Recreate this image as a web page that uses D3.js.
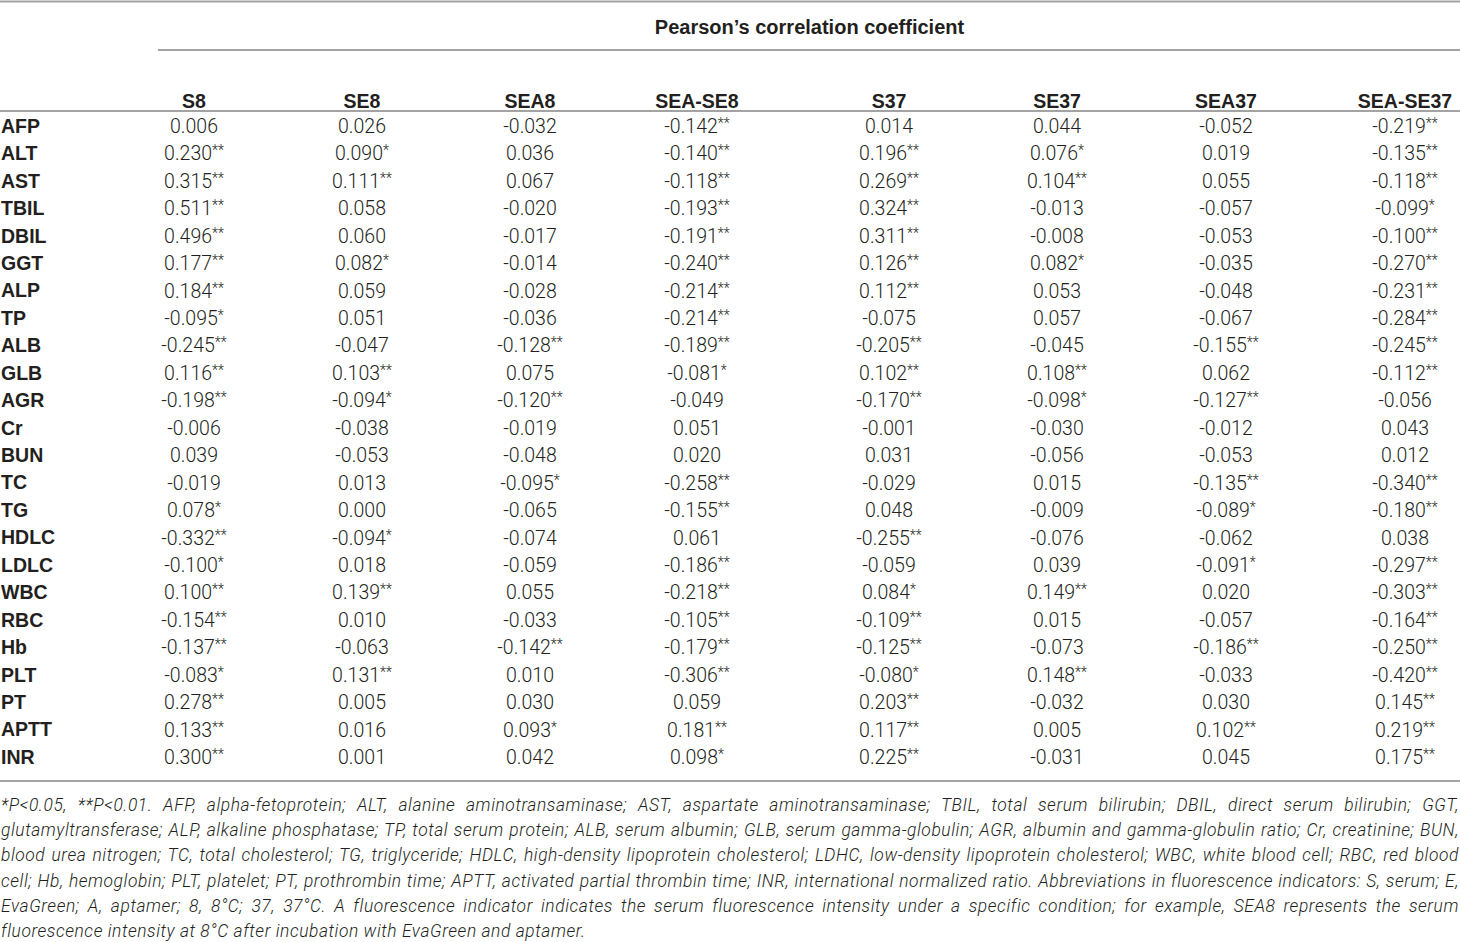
<!DOCTYPE html>
<html>
<head>
<meta charset="utf-8">
<script src="https://cdn.jsdelivr.net/npm/d3@7"></script>
<style>
  html, body { margin: 0; padding: 0; background: #fff; }
  svg text { font-family: "Liberation Sans", Arial, sans-serif; fill: #231f20; }
  svg text.light { font-family: Roboto, "Liberation Sans", sans-serif; font-weight: 300; }
</style>
</head>
<body>
<div id="chart"></div>
<script>
// Table data
const groupTitle = 'Pearson\u2019s correlation coefficient';
const columns = ['S8', 'SE8', 'SEA8', 'SEA-SE8', 'S37', 'SE37', 'SEA37', 'SEA-SE37'];
const rowLabels = ['AFP', 'ALT', 'AST', 'TBIL', 'DBIL', 'GGT', 'ALP', 'TP', 'ALB', 'GLB', 'AGR', 'Cr',
    'BUN', 'TC', 'TG', 'HDLC', 'LDLC', 'WBC', 'RBC', 'Hb', 'PLT', 'PT', 'APTT', 'INR'];

// one array per column, values as printed (asterisks = significance)
const S8 = ['0.006', '0.230**', '0.315**', '0.511**', '0.496**', '0.177**', '0.184**', '-0.095*', '-0.245**', '0.116**', '-0.198**', '-0.006',
    '0.039', '-0.019', '0.078*', '-0.332**', '-0.100*', '0.100**', '-0.154**', '-0.137**', '-0.083*', '0.278**', '0.133**', '0.300**'];
const SE8 = ['0.026', '0.090*', '0.111**', '0.058', '0.060', '0.082*', '0.059', '0.051', '-0.047', '0.103**', '-0.094*', '-0.038',
    '-0.053', '0.013', '0.000', '-0.094*', '0.018', '0.139**', '0.010', '-0.063', '0.131**', '0.005', '0.016', '0.001'];
const SEA8 = ['-0.032', '0.036', '0.067', '-0.020', '-0.017', '-0.014', '-0.028', '-0.036', '-0.128**', '0.075', '-0.120**', '-0.019',
    '-0.048', '-0.095*', '-0.065', '-0.074', '-0.059', '0.055', '-0.033', '-0.142**', '0.010', '0.030', '0.093*', '0.042'];
const SEASE8 = ['-0.142**', '-0.140**', '-0.118**', '-0.193**', '-0.191**', '-0.240**', '-0.214**', '-0.214**', '-0.189**', '-0.081*', '-0.049', '0.051',
    '0.020', '-0.258**', '-0.155**', '0.061', '-0.186**', '-0.218**', '-0.105**', '-0.179**', '-0.306**', '0.059', '0.181**', '0.098*'];
const S37 = ['0.014', '0.196**', '0.269**', '0.324**', '0.311**', '0.126**', '0.112**', '-0.075', '-0.205**', '0.102**', '-0.170**', '-0.001',
    '0.031', '-0.029', '0.048', '-0.255**', '-0.059', '0.084*', '-0.109**', '-0.125**', '-0.080*', '0.203**', '0.117**', '0.225**'];
const SE37 = ['0.044', '0.076*', '0.104**', '-0.013', '-0.008', '0.082*', '0.053', '0.057', '-0.045', '0.108**', '-0.098*', '-0.030',
    '-0.056', '0.015', '-0.009', '-0.076', '0.039', '0.149**', '0.015', '-0.073', '0.148**', '-0.032', '0.005', '-0.031'];
const SEA37 = ['-0.052', '0.019', '0.055', '-0.057', '-0.053', '-0.035', '-0.048', '-0.067', '-0.155**', '0.062', '-0.127**', '-0.012',
    '-0.053', '-0.135**', '-0.089*', '-0.062', '-0.091*', '0.020', '-0.057', '-0.186**', '-0.033', '0.030', '0.102**', '0.045'];
const SEASE37 = ['-0.219**', '-0.135**', '-0.118**', '-0.099*', '-0.100**', '-0.270**', '-0.231**', '-0.284**', '-0.245**', '-0.112**', '-0.056', '0.043',
    '0.012', '-0.340**', '-0.180**', '0.038', '-0.297**', '-0.303**', '-0.164**', '-0.250**', '-0.420**', '0.145**', '0.219**', '0.175**'];
const seriesValues = [S8, SE8, SEA8, SEASE8, S37, SE37, SEA37, SEASE37];

const footnoteLines = [
    '*P<0.05, **P<0.01. AFP, alpha-fetoprotein; ALT, alanine aminotransaminase; AST, aspartate aminotransaminase; TBIL, total serum bilirubin; DBIL, direct serum bilirubin; GGT,',
    'glutamyltransferase; ALP, alkaline phosphatase; TP, total serum protein; ALB, serum albumin; GLB, serum gamma-globulin; AGR, albumin and gamma-globulin ratio; Cr, creatinine; BUN,',
    'blood urea nitrogen; TC, total cholesterol; TG, triglyceride; HDLC, high-density lipoprotein cholesterol; LDHC, low-density lipoprotein cholesterol; WBC, white blood cell; RBC, red blood',
    'cell; Hb, hemoglobin; PLT, platelet; PT, prothrombin time; APTT, activated partial thrombin time; INR, international normalized ratio. Abbreviations in fluorescence indicators: S, serum; E,',
    'EvaGreen; A, aptamer; 8, 8\u00b0C; 37, 37\u00b0C. A fluorescence indicator indicates the serum fluorescence intensity under a specific condition; for example, SEA8 represents the serum',
    'fluorescence intensity at 8\u00b0C after incubation with EvaGreen and aptamer.'
];

// layout
const width = 1460, height = 942;
const colCenters = [194, 362, 530, 697, 889, 1057, 1226, 1405];
const ruleColor = '#a3a3a3';

const svg = d3.select('#chart')
    .append('svg')
    .attr('width', width)
    .attr('height', height);

const x = d3.scaleOrdinal()
    .domain(columns)
    .range(colCenters);

const y = d3.scalePoint()
    .domain(rowLabels)
    .range([126, 757]);

const footY = d3.scalePoint()
    .domain(d3.range(footnoteLines.length))
    .range([805, 931]);

// horizontal rules
const rules = [
    { x1: 0, x2: width, y: 1.5 },
    { x1: 158, x2: width, y: 50 },
    { x1: 0, x2: width, y: 111 },
    { x1: 0, x2: width, y: 781 }
];
svg.selectAll('line.rule')
    .data(rules)
    .enter()
    .append('line')
    .attr('class', 'rule')
    .attr('x1', d => d.x1)
    .attr('x2', d => d.x2)
    .attr('y1', d => d.y)
    .attr('y2', d => d.y)
    .attr('stroke', ruleColor)
    .attr('stroke-width', 2);

// group header
svg.append('text')
    .attr('x', (x('S8') + x('SEA-SE37')) / 2 + 10)
    .attr('y', 27)
    .attr('dy', '0.35em')
    .attr('text-anchor', 'middle')
    .attr('font-size', '20px')
    .attr('font-weight', 'bold')
    .text(groupTitle);

// column headers
svg.selectAll('text.colhead')
    .data(columns)
    .enter()
    .append('text')
    .attr('class', 'colhead')
    .attr('x', d => x(d))
    .attr('y', 101)
    .attr('dy', '0.35em')
    .attr('text-anchor', 'middle')
    .attr('font-size', '19.5px')
    .attr('font-weight', 'bold')
    .text(d => d);

// row labels
svg.selectAll('text.rowlabel')
    .data(rowLabels)
    .enter()
    .append('text')
    .attr('class', 'rowlabel')
    .attr('x', 1)
    .attr('y', d => y(d))
    .attr('dy', '0.35em')
    .attr('font-size', '19.5px')
    .attr('font-weight', 'bold')
    .text(d => d);

// cells
const cells = [];
columns.forEach((c, ci) => {
    seriesValues[ci].forEach((v, ri) => {
        cells.push({ col: c, row: rowLabels[ri], num: v.replace(/\*/g, ''), stars: (v.match(/\*/g) || []).join('') });
    });
});

const cellText = svg.selectAll('text.cell')
    .data(cells)
    .enter()
    .append('text')
    .attr('class', 'cell light')
    .attr('x', d => x(d.col))
    .attr('y', d => y(d.row))
    .attr('dy', '0.36em')
    .attr('text-anchor', 'middle')
    .attr('font-size', '19.5px');

cellText.append('tspan').text(d => d.num);
cellText.filter(d => d.stars)
    .append('tspan')
    .attr('font-size', '14px')
    .attr('dy', '-5')
    .text(d => d.stars);

// footnote, justified like the source
const footW = width - 2;
const foot = svg.selectAll('text.foot')
    .data(footnoteLines)
    .enter()
    .append('text')
    .attr('class', 'foot light')
    .attr('x', 1)
    .attr('y', (d, i) => footY(i))
    .attr('dy', '0.35em')
    .attr('font-size', '17.4px')
    .attr('font-style', 'italic')
    .style('white-space', 'pre')
    .text(d => d);

// widen letters a little so the tightest line nearly fills, then spread words
let spacing = Infinity;
foot.each(function(d, i) {
    if (i === footnoteLines.length - 1) return;
    const len = this.getComputedTextLength();
    spacing = Math.min(spacing, (footW - len) / d.length);
});
spacing = Math.max(0, spacing * 0.92);
foot.attr('letter-spacing', spacing);
foot.each(function(d, i) {
    if (i === footnoteLines.length - 1) return;
    const len = this.getComputedTextLength();
    const gaps = d.split(' ').length - 1;
    if (len < footW) {
        d3.select(this).attr('word-spacing', (footW - len) / gaps);
    } else {
        d3.select(this).attr('textLength', footW).attr('lengthAdjust', 'spacingAndGlyphs');
    }
});
</script>
</body>
</html>
